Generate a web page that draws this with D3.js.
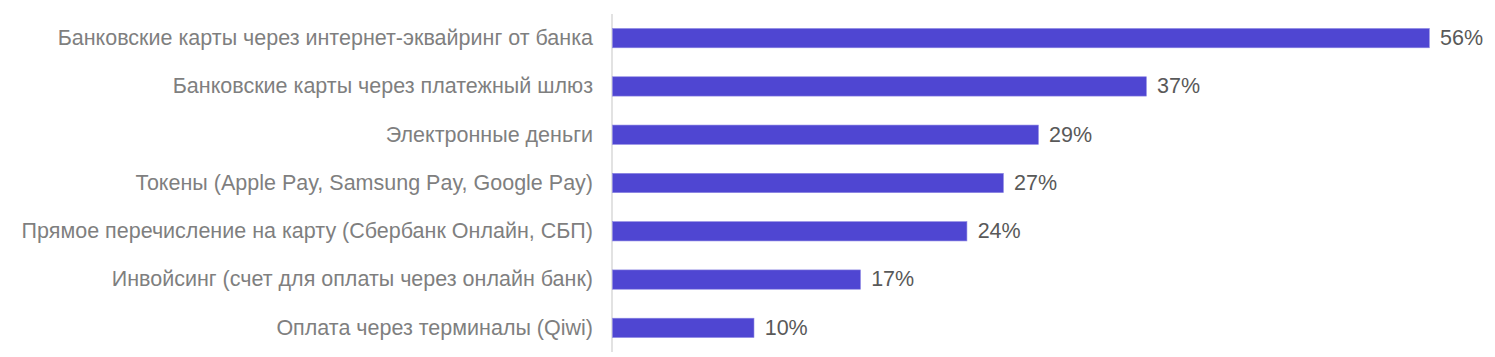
<!DOCTYPE html>
<html><head><meta charset="utf-8">
<script src="https://cdn.jsdelivr.net/npm/d3@7"></script>
<style>body{margin:0;background:#fff;}svg{display:block;}</style>
</head><body>
<script>
const categories = [
  "Банковские карты через интернет-эквайринг от банка",
  "Банковские карты через платежный шлюз",
  "Электронные деньги",
  "Токены (Apple Pay, Samsung Pay, Google Pay)",
  "Прямое перечисление на карту (Сбербанк Онлайн, СБП)",
  "Инвойсинг (счет для оплаты через онлайн банк)",
  "Оплата через терминалы (Qiwi)"
];
const values = [56, 36.6, 29.2, 26.8, 24.3, 17.0, 9.7];
const valueLabels = ["56%", "37%", "29%", "27%", "24%", "17%", "10%"];

const W = 1495, H = 357;
const svg = d3.select("body").append("svg").attr("width", W).attr("height", H);

const x = d3.scaleLinear().domain([0, 56]).range([612.5, 1429.3]);
const y = d3.scaleBand().domain(categories).range([14, 352]).paddingInner(0.6).paddingOuter(0.3);

svg.append("line").attr("x1", 612).attr("x2", 612).attr("y1", 14).attr("y2", 352)
  .attr("stroke", "#d9d9d9").attr("stroke-width", 1.5);

svg.selectAll("rect.bar").data(values).enter().append("rect")
  .attr("class", "bar")
  .attr("x", x(0))
  .attr("y", (d, i) => y(categories[i]))
  .attr("width", d => x(d) - x(0))
  .attr("height", y.bandwidth())
  .attr("fill", "#4f46d2")
  .attr("stroke", "#8c86e3").attr("stroke-width", 0.6);

svg.selectAll("text.cat").data(categories).enter().append("text")
  .attr("class", "cat")
  .attr("x", 593)
  .attr("y", d => y(d) + y.bandwidth() / 2)
  .attr("dy", "0.32em")
  .attr("text-anchor", "end")
  .attr("font-family", "Liberation Sans, Arial, sans-serif")
  .attr("font-size", 21.5)
  .attr("fill", "#7f7f7f")
  .text(d => d);

svg.selectAll("text.val").data(values).enter().append("text")
  .attr("class", "val")
  .attr("x", d => x(d) + 10.7)
  .attr("y", (d, i) => y(categories[i]) + y.bandwidth() / 2)
  .attr("dy", "0.32em")
  .attr("font-family", "Liberation Sans, Arial, sans-serif")
  .attr("font-size", 21.5)
  .attr("fill", "#595959")
  .text((d, i) => valueLabels[i]);
</script>
</body></html>
